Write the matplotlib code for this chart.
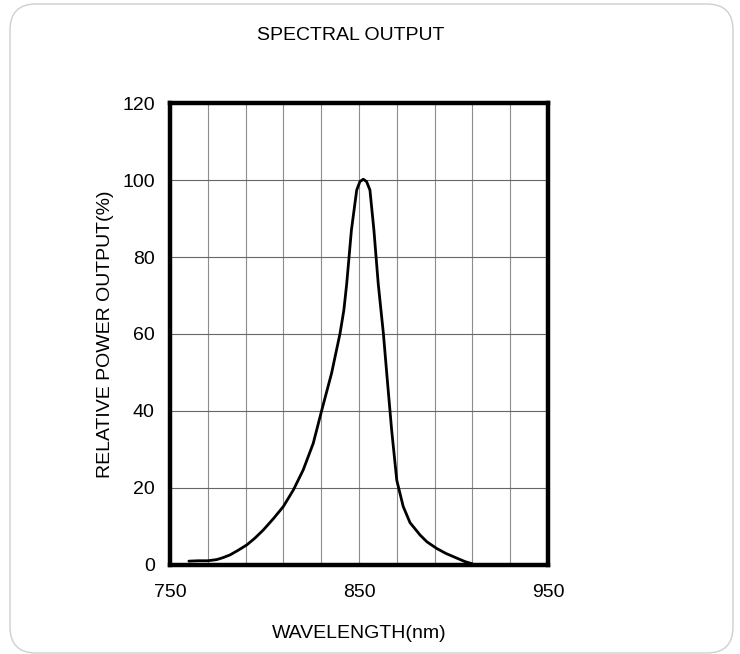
import matplotlib.pyplot as plt
from matplotlib.patches import FancyBboxPatch

plt.rcParams['font.family'] = ['Liberation Sans', 'DejaVu Sans']

# -----------------------------
# Data
# -----------------------------
wavelength = [760, 765, 770, 774.7, 778, 781.7, 786, 790.6, 795, 799.4, 805, 810,
              815.3, 820.5, 825.8, 830.2, 835.5, 840, 842, 843.5, 846, 848.8,
              850.5, 852.3, 854, 855.8, 857.9, 860.2, 862.9, 865, 867.3, 870,
              873.4, 877, 882.3, 886, 891.1, 896, 901.7, 906, 910]
power = [1.0, 1.1, 1.1, 1.4, 1.9, 2.6, 3.8, 5.2, 7.0, 9.1, 12.2, 15.2,
         19.5, 24.7, 31.6, 40.0, 49.8, 60.2, 66.2, 73.0, 87.0, 97.4,
         99.6, 100.2, 99.6, 97.4, 87.0, 73.0, 60.2, 48.0, 35.0, 22.0,
         15.2, 11.0, 7.8, 6.0, 4.3, 3.0, 1.8, 0.9, 0.3]

x_ticks = [750, 850, 950]
y_ticks = [0, 20, 40, 60, 80, 100, 120]
x_grid = list(range(750, 951, 20))

# -----------------------------
# Plot
# -----------------------------
fig = plt.figure(figsize=(7.4, 6.54), dpi=100)

# rounded outer frame (in inches so the corners stay round)
frame = FancyBboxPatch((0.10, 0.01), 7.23, 6.49, boxstyle="round,pad=0,rounding_size=0.26",
                       transform=fig.dpi_scale_trans, facecolor="white", edgecolor="#cfcfcf",
                       linewidth=1.0, zorder=-10)
fig.patches.append(frame)

ax = fig.add_axes([0.2297, 0.1361, 0.5108, 0.7064])
ax.set_xlim(750, 950)
ax.set_ylim(0, 120)

for xg in x_grid:
    ax.axvline(xg, color="#8c8c8c", linewidth=0.8, zorder=1)
for yg in y_ticks:
    ax.axhline(yg, color="#666666", linewidth=0.8, zorder=1)

ax.plot(wavelength, power, color="black", linewidth=2.0, solid_joinstyle="round",
        solid_capstyle="round", zorder=3)

ax.set_xticks(x_ticks)
ax.set_yticks(y_ticks)
ax.tick_params(length=0, labelsize=14)
ax.tick_params(axis="x", pad=14)
ax.tick_params(axis="y", pad=11)

for spine in ax.spines.values():
    spine.set_linewidth(3.2)
    spine.set_zorder(4)

ax.set_xlabel("WAVELENGTH(nm)", fontsize=14, labelpad=17)
ax.set_ylabel("RELATIVE POWER OUTPUT(%)", fontsize=14, labelpad=6)
fig.text(0.474, 0.946, "SPECTRAL OUTPUT", ha="center", va="center", fontsize=14)

plt.savefig("out.png", dpi=100)
